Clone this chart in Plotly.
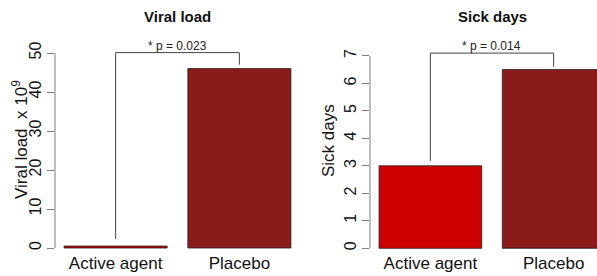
import plotly.graph_objects as go

# ---- data ----
groups = ["Active agent", "Placebo"]
viral_load = [0.5, 46.0]          # x 10^9
sick_days = [3.0, 6.5]
bar_colors = ["#CD0000", "#8B1A1A"]

viral_ticks = [0, 10, 20, 30, 40, 50]
sick_ticks = [0, 1, 2, 3, 4, 5, 6, 7]

viral_p = "* p = 0.023"
sick_p = "* p = 0.014"
viral_bracket = [2.3, 50.1, 50.1, 47.0]
sick_bracket = [3.18, 7.1, 7.1, 6.6]

W, H = 597, 276
FONT = "Liberation Sans, Arial, sans-serif"
AXC = "#7f7f7f"

fig = go.Figure()

def add_panel(xa, ya, values, bracket, ptxt):
    fig.add_trace(go.Bar(
        x=groups, y=values, width=[0.833, 0.833],
        marker=dict(color=bar_colors, line=dict(color="#222222", width=0.8)),
        xaxis=xa, yaxis=ya, showlegend=False, hoverinfo="x+y"))
    fig.add_trace(go.Scatter(
        x=[groups[0], groups[0], groups[1], groups[1]], y=bracket,
        mode="lines", line=dict(color="#444444", width=1),
        xaxis=xa, yaxis=ya, showlegend=False, hoverinfo="skip",
        cliponaxis=False))
    fig.add_annotation(x=0.5, y=bracket[1], xref=xa, yref=ya, text=ptxt,
                       showarrow=False, xanchor="center", yanchor="bottom", yshift=-2,
                       font=dict(size=12, color="#222222", family=FONT))

add_panel("x", "y", viral_load, viral_bracket, viral_p)
add_panel("x2", "y2", sick_days, sick_bracket, sick_p)

ydom = [(H - 251) / H, (H - 30) / H]
xcommon = dict(type="category", showline=False, ticks="", showgrid=False,
               zeroline=False, tickfont=dict(size=17, color="#111111", family=FONT))
ycommon = dict(showline=False, ticks="outside", ticklen=7, tickcolor=AXC,
               tickwidth=1, showgrid=False, zeroline=False, tickangle=-90,
               tickfont=dict(size=16, color="#111111", family=FONT), domain=ydom)

fig.update_layout(
    width=W, height=H, margin=dict(l=0, r=0, t=0, b=0),
    paper_bgcolor="white", plot_bgcolor="white",
    font=dict(family=FONT, color="#111111"),
    bargap=0.1667,
    xaxis=dict(domain=[55 / W, 300 / W], range=[-0.49, 1.49], anchor="y", **xcommon),
    xaxis2=dict(domain=[370 / W, 1.0], range=[-0.49, 1.352], anchor="y2", **xcommon),
    yaxis=dict(anchor="x", range=[-0.77, 55.9], tickvals=viral_ticks, **ycommon),
    yaxis2=dict(anchor="x2", range=[-0.098, 7.94], tickvals=sick_ticks, **ycommon),
)

# R-style axis lines spanning only the tick range
for ya, ticks in (("y", viral_ticks), ("y2", sick_ticks)):
    xa = "x" if ya == "y" else "x2"
    fig.add_shape(type="line", xref=f"{xa} domain", yref=ya, x0=0, x1=0,
                  y0=min(ticks), y1=max(ticks), line=dict(color=AXC, width=1))

def paper_text(px, py, text, size, angle=0):
    fig.add_annotation(x=px / W, y=1 - py / H, xref="paper", yref="paper",
                       xanchor="center", yanchor="middle", text=text,
                       textangle=angle, showarrow=False,
                       font=dict(size=size, family=FONT, color="#111111"))

# panel titles
paper_text(177.5, 16, "<b>Viral load</b>", 15)
paper_text(492, 16, "<b>Sick days</b>", 15)
# y axis titles
paper_text(20, 140, "Viral load\u00a0\u00a0x 10<sup>9</sup>", 17, -90)
paper_text(328, 141, "Sick days", 17, -90)

fig.write_html("out.html", config={"displayModeBar": False},
               post_script="document.body.style.margin='0';")
